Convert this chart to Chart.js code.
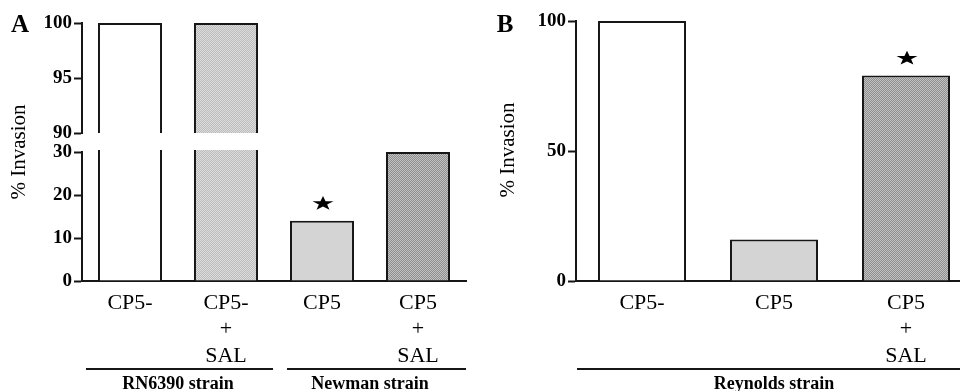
<!DOCTYPE html>
<html>
<head>
<meta charset="utf-8">
<script src="https://cdn.jsdelivr.net/npm/chart.js@4/dist/chart.umd.min.js"></script>
<style>
  html, body { margin: 0; padding: 0; background: #fff; overflow: hidden; width: 960px; height: 391px; }
  canvas { position: absolute; top: 0; }
</style>
</head>
<body>
<canvas id="aTop" width="480" height="391" style="left:0"></canvas>
<canvas id="aLow" width="480" height="391" style="left:0"></canvas>
<canvas id="b" width="500" height="391" style="left:480px"></canvas>
<script>
// ---------------- data ----------------
const categoriesA = [["CP5-"], ["CP5-", "+", "SAL"], ["CP5"], ["CP5", "+", "SAL"]];
const valuesA = [100, 100, 14, 30];
const significantA = [false, false, true, false];
const groupsA = [
  { label: "RN6390 strain", from: 0, to: 1 },
  { label: "Newman strain", from: 2, to: 3 }
];
const ticksAHigh = [90, 95, 100];
const ticksALow = [0, 10, 20, 30];

const categoriesB = [["CP5-"], ["CP5"], ["CP5", "+", "SAL"]];
const valuesB = [100, 16, 79];
const significantB = [false, false, true];
const groupsB = [
  { label: "Reynolds strain", from: 0, to: 2 }
];
const ticksB = [0, 50, 100];

const yTitle = "% Invasion";

// ---------------- styling helpers ----------------
const SERIF = "'Liberation Serif', 'Times New Roman', serif";
const INK = '#161616';
Chart.defaults.font.family = SERIF;
Chart.defaults.color = '#000';

function checker(c1, c2) {
  const p = document.createElement('canvas');
  p.width = 2; p.height = 2;
  const g = p.getContext('2d');
  g.fillStyle = c1; g.fillRect(0, 0, 2, 2);
  g.fillStyle = c2; g.fillRect(0, 0, 1, 1); g.fillRect(1, 1, 1, 1);
  return g.createPattern(p, 'repeat');
}
const patLight = checker('#bcbcbc', '#dcdcdc');
const patDark = checker('#8e8e8e', '#c2c2c2');
const colorsA = ['#ffffff', patLight, '#d4d4d4', patDark];
const colorsB = ['#ffffff', '#d4d4d4', patDark];

function drawStar(ctx, cx, cy) {
  const R = 7.6, r = 3.0, sx = 1.45;
  ctx.save();
  ctx.beginPath();
  for (let k = 0; k < 10; k++) {
    const rad = k % 2 === 0 ? R : r;
    const a = -Math.PI / 2 + k * Math.PI / 5;
    const px = cx + Math.cos(a) * rad * sx;
    const py = cy + Math.sin(a) * rad + 0.8;
    if (k === 0) ctx.moveTo(px, py); else ctx.lineTo(px, py);
  }
  ctx.closePath();
  ctx.fillStyle = '#000';
  ctx.fill();
  ctx.restore();
}

function annotPlugin(o) {
  return {
    id: 'annot',
    afterDraw(chart) {
      const ctx = chart.ctx;
      const xs = chart.scales.x, ys = chart.scales.y;
      ctx.save();
      // panel letter
      ctx.fillStyle = '#000';
      ctx.font = 'bold 25px ' + SERIF;
      ctx.textAlign = 'center';
      ctx.textBaseline = 'alphabetic';
      ctx.fillText(o.letter, o.letterX, o.letterY);
      // y title
      ctx.save();
      ctx.translate(o.titleX, o.titleY);
      ctx.rotate(-Math.PI / 2);
      ctx.font = '21px ' + SERIF;
      ctx.textBaseline = 'middle';
      ctx.fillStyle = '#000';
      ctx.fillText(yTitle, 0, 0);
      ctx.restore();
      // stars
      o.significant.forEach((s, i) => {
        if (!s) return;
        drawStar(ctx, xs.getPixelForValue(i) + 1, ys.getPixelForValue(o.values[i]) - 18);
      });
      // groups
      const cw = xs.getPixelForValue(1) - xs.getPixelForValue(0);
      o.groups.forEach((g, gi) => {
        const ins = o.insets[gi];
        const l = xs.getPixelForValue(g.from) - cw / 2 + ins[0];
        const r = xs.getPixelForValue(g.to) + cw / 2 - ins[1];
        ctx.strokeStyle = INK;
        ctx.lineWidth = 2;
        ctx.beginPath();
        ctx.moveTo(l, 369); ctx.lineTo(r, 369);
        ctx.stroke();
        ctx.fillStyle = '#000';
        ctx.font = 'bold 18px ' + SERIF;
        ctx.textAlign = 'center';
        ctx.textBaseline = 'alphabetic';
        const cx = (xs.getPixelForValue(g.from) + xs.getPixelForValue(g.to)) / 2;
        ctx.fillText(g.label, cx, 389);
      });
      ctx.restore();
    }
  };
}

function yAxis(min, max, ticksArr, width) {
  return {
    type: 'linear', min: min, max: max,
    afterBuildTicks: s => { s.ticks = ticksArr.map(v => ({ value: v })); },
    afterFit: s => { s.width = width; },
    grid: { drawOnChartArea: false, drawTicks: true, tickLength: 8, tickWidth: 2, tickColor: INK },
    border: { display: true, color: INK, width: 2 },
    ticks: { padding: 2, color: '#000', font: { size: 19, weight: 'bold', family: SERIF } }
  };
}

function xAxis(labels, show) {
  return {
    type: 'category', labels: labels, offset: true, display: show,
    afterFit: s => { s.height = show ? 110 : 0; },
    grid: { display: false, drawTicks: false },
    border: { display: show, color: INK, width: 2 },
    ticks: { padding: 9, color: '#000', maxRotation: 0, autoSkip: false,
             font: { size: 22, lineHeight: 1.2, family: SERIF } }
  };
}

function barDataset(values, colors, clip) {
  return {
    data: values,
    backgroundColor: colors,
    borderColor: INK,
    borderWidth: 2,
    borderSkipped: 'start',
    categoryPercentage: 1,
    barPercentage: 0.667,
    clip: clip
  };
}

const common = {
  responsive: false,
  animation: false,
  events: [],
  plugins: { legend: { display: false }, tooltip: { enabled: false } }
};

// Panel A, upper segment (90-100)
new Chart(document.getElementById('aTop'), {
  type: 'bar',
  data: { labels: categoriesA, datasets: [barDataset(valuesA, colorsA, { left: 3, top: 3, right: 3, bottom: 0 })] },
  options: Object.assign({}, common, {
    layout: { padding: { left: 0, right: 14, top: 23, bottom: 258 } },
    scales: { x: xAxis(categoriesA, false), y: yAxis(90, 100, ticksAHigh, 82) }
  })
});

// Panel A, lower segment (0-30)
new Chart(document.getElementById('aLow'), {
  type: 'bar',
  data: { labels: categoriesA, datasets: [barDataset(valuesA, colorsA, { left: 3, top: 2, right: 3, bottom: 2 })] },
  options: Object.assign({}, common, {
    layout: { padding: { left: 0, right: 14, top: 152, bottom: 0 } },
    scales: { x: xAxis(categoriesA, true), y: yAxis(0, 30, ticksALow, 82) }
  }),
  plugins: [annotPlugin({
    letter: 'A', letterX: 20, letterY: 32,
    titleX: 19, titleY: 152,
    values: valuesA, significant: significantA,
    groups: groupsA, insets: [[4, 1], [13, 0]]
  })]
});

// Panel B
new Chart(document.getElementById('b'), {
  type: 'bar',
  data: { labels: categoriesB, datasets: [barDataset(valuesB, colorsB, { left: 3, top: 3, right: 3, bottom: 2 })] },
  options: Object.assign({}, common, {
    layout: { padding: { left: 0, right: 8, top: 21, bottom: 0 } },
    scales: { x: xAxis(categoriesB, true), y: yAxis(0, 100, ticksB, 96) }
  }),
  plugins: [annotPlugin({
    letter: 'B', letterX: 25, letterY: 32,
    titleX: 28, titleY: 150,
    values: valuesB, significant: significantB,
    groups: groupsB, insets: [[1, 0]]
  })]
});
</script>
</body>
</html>
